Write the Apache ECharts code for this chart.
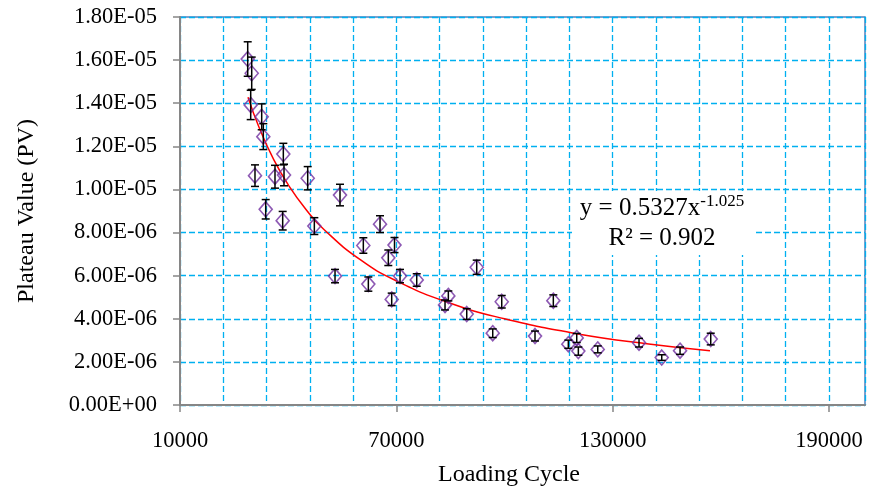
<!DOCTYPE html>
<html>
<head>
<meta charset="utf-8">
<script src="https://cdn.jsdelivr.net/npm/echarts@6/dist/echarts.min.js"></script>
<style>
  html, body { margin: 0; padding: 0; background: #fff; }
  #main { width: 870px; height: 496px; }
</style>
</head>
<body>
<div id="main"></div>
<script>
// loading cycle of each test point
var cycles = [28780, 29890, 29610, 32660, 33110, 30800, 33770, 38660, 36350, 38850,
  38480, 45420, 47260, 54380, 65480, 60850, 69500, 67780, 53000, 62240,
  71030, 75660, 68720, 92300, 84430, 83510, 89530, 99240, 96740, 113550,
  108470, 117710, 120040, 120490, 125870, 137320, 143620, 148700, 157210];
// plateau value (PV)
var plateau = [16.05e-6, 15.39e-6, 13.92e-6, 13.37e-6, 12.45e-6, 10.64e-6, 9.08e-6, 11.64e-6, 10.59e-6, 10.67e-6,
  8.55e-6, 10.52e-6, 8.30e-6, 9.74e-6, 8.39e-6, 7.40e-6, 7.42e-6, 6.83e-6, 5.98e-6, 5.61e-6,
  5.98e-6, 5.80e-6, 4.90e-6, 6.39e-6, 5.06e-6, 4.64e-6, 4.22e-6, 4.79e-6, 3.33e-6, 4.84e-6,
  3.20e-6, 2.82e-6, 3.11e-6, 2.50e-6, 2.58e-6, 2.89e-6, 2.20e-6, 2.52e-6, 3.06e-6];
// half length of error bars
var plateauErr = [0.80e-6, 0.75e-6, 0.68e-6, 0.60e-6, 0.60e-6, 0.50e-6, 0.45e-6, 0.50e-6, 0.53e-6, 0.50e-6,
  0.43e-6, 0.54e-6, 0.39e-6, 0.50e-6, 0.39e-6, 0.36e-6, 0.35e-6, 0.36e-6, 0.31e-6, 0.33e-6,
  0.31e-6, 0.29e-6, 0.29e-6, 0.33e-6, 0.23e-6, 0.23e-6, 0.25e-6, 0.29e-6, 0.20e-6, 0.27e-6,
  0.23e-6, 0.19e-6, 0.21e-6, 0.19e-6, 0.16e-6, 0.20e-6, 0.13e-6, 0.17e-6, 0.27e-6];
// power trend line
var trendCycles = [28860, 32000, 36000, 40000, 45000, 50000, 60000, 70000, 85000, 100000, 120000, 140000, 157000];
var trendValues = [14.28e-6, 12.85e-6, 11.38e-6, 10.22e-6, 9.06e-6, 8.13e-6, 6.74e-6, 5.76e-6, 4.72e-6, 4.00e-6, 3.31e-6, 2.83e-6, 2.52e-6];
var xLabelValues = [10000, 70000, 130000, 190000];

var FONT = "Liberation Serif";

function sci(v) {
  if (v === 0) return "0.00E+00";
  var e = Math.floor(Math.log10(Math.abs(v)) + 1e-9);
  var m = v / Math.pow(10, e);
  var a = Math.abs(e);
  return m.toFixed(2) + "E" + (e < 0 ? "-" : "+") + (a < 10 ? "0" : "") + a;
}

var points = [];
var bars = [];
for (var i = 0; i < cycles.length; i++) {
  points.push([cycles[i], plateau[i]]);
  bars.push([cycles[i], plateau[i] - plateauErr[i], plateau[i] + plateauErr[i]]);
}
var trend = [];
for (var j = 0; j < trendCycles.length; j++) {
  trend.push([trendCycles[j], trendValues[j]]);
}

var gridDash = { color: "#00b0f0", width: 1.3, type: [6, 3] };

var chart = echarts.init(document.getElementById("main"));
var option = {
  animation: false,
  grid: {
    left: 180, right: 5, top: 17, bottom: 91,
    show: true, borderColor: "#4f81bd", borderWidth: 1.5, backgroundColor: "#fff"
  },
  xAxis: [
    {
      // grid lines every 12000
      type: "value", position: "bottom",
      min: 10000, max: 200000, interval: 12000,
      axisLine: { show: false },
      axisTick: { show: false },
      axisLabel: { show: false },
      splitLine: { show: true, lineStyle: gridDash }
    },
    {
      // labelled axis
      type: "value", position: "bottom",
      min: 10000, max: 200000,
      name: "Loading Cycle",
      nameLocation: "middle",
      nameGap: 58,
      nameTextStyle: { fontFamily: FONT, fontSize: 24, color: "#000", padding: [0, 27, 0, 0] },
      axisLine: { show: true, onZero: false, lineStyle: { color: "#868686", width: 2 } },
      axisTick: { show: true, length: 7, customValues: xLabelValues, lineStyle: { color: "#868686", width: 1.5 } },
      axisLabel: {
        customValues: xLabelValues, margin: 25, fontFamily: FONT, fontSize: 22.5, color: "#000",
        formatter: function (v) { return String(v); }
      },
      splitLine: { show: false }
    }
  ],
  yAxis: {
    type: "value",
    min: 0, max: 1.8e-5, interval: 2e-6,
    name: "Plateau Value (PV)",
    nameLocation: "middle",
    nameGap: 141,
    nameTextStyle: { fontFamily: FONT, fontSize: 24, color: "#000" },
    axisLine: { show: true, lineStyle: { color: "#868686", width: 2 } },
    axisTick: { show: true, length: 7, lineStyle: { color: "#868686", width: 1.5 } },
    axisLabel: { margin: 23, fontFamily: FONT, fontSize: 22.5, color: "#000", formatter: sci },
    splitLine: { show: true, lineStyle: gridDash }
  },
  graphic: [
    {
      type: "rect", left: 572, top: 191, z: 100,
      shape: { width: 181, height: 64 },
      style: { fill: "#fff" }
    },
    {
      type: "text", x: 662, y: 223, z: 101,
      style: {
        text: "{a|y = 0.5327x}{s|-1.025}\n{a|R² = 0.902}",
        align: "center", verticalAlign: "middle",
        rich: {
          a: { fontFamily: FONT, fontSize: 25, lineHeight: 30, fill: "#000" },
          s: { fontFamily: FONT, fontSize: 17, lineHeight: 16, verticalAlign: "top", fill: "#000" }
        }
      }
    }
  ],
  series: [
    {
      type: "line",
      xAxisIndex: 0,
      data: trend,
      smooth: true,
      symbol: "none",
      lineStyle: { color: "#ff0000", width: 1.5 },
      z: 2
    },
    {
      type: "scatter",
      xAxisIndex: 0,
      data: points,
      symbol: "diamond",
      symbolSize: [13, 15],
      itemStyle: { color: "rgba(0,0,0,0)", borderColor: "#7030a0", borderWidth: 1.6 },
      z: 3
    },
    {
      type: "custom",
      xAxisIndex: 0,
      data: bars,
      z: 4,
      renderItem: function (params, api) {
        var lo = api.coord([api.value(0), api.value(1)]);
        var hi = api.coord([api.value(0), api.value(2)]);
        var cap = 4;
        var st = { stroke: "#000", lineWidth: 1.5 };
        return {
          type: "group",
          children: [
            { type: "line", shape: { x1: lo[0], y1: lo[1], x2: hi[0], y2: hi[1] }, style: st },
            { type: "line", shape: { x1: lo[0] - cap, y1: lo[1], x2: lo[0] + cap, y2: lo[1] }, style: st },
            { type: "line", shape: { x1: hi[0] - cap, y1: hi[1], x2: hi[0] + cap, y2: hi[1] }, style: st }
          ]
        };
      }
    }
  ]
};
chart.setOption(option);
</script>
</body>
</html>
